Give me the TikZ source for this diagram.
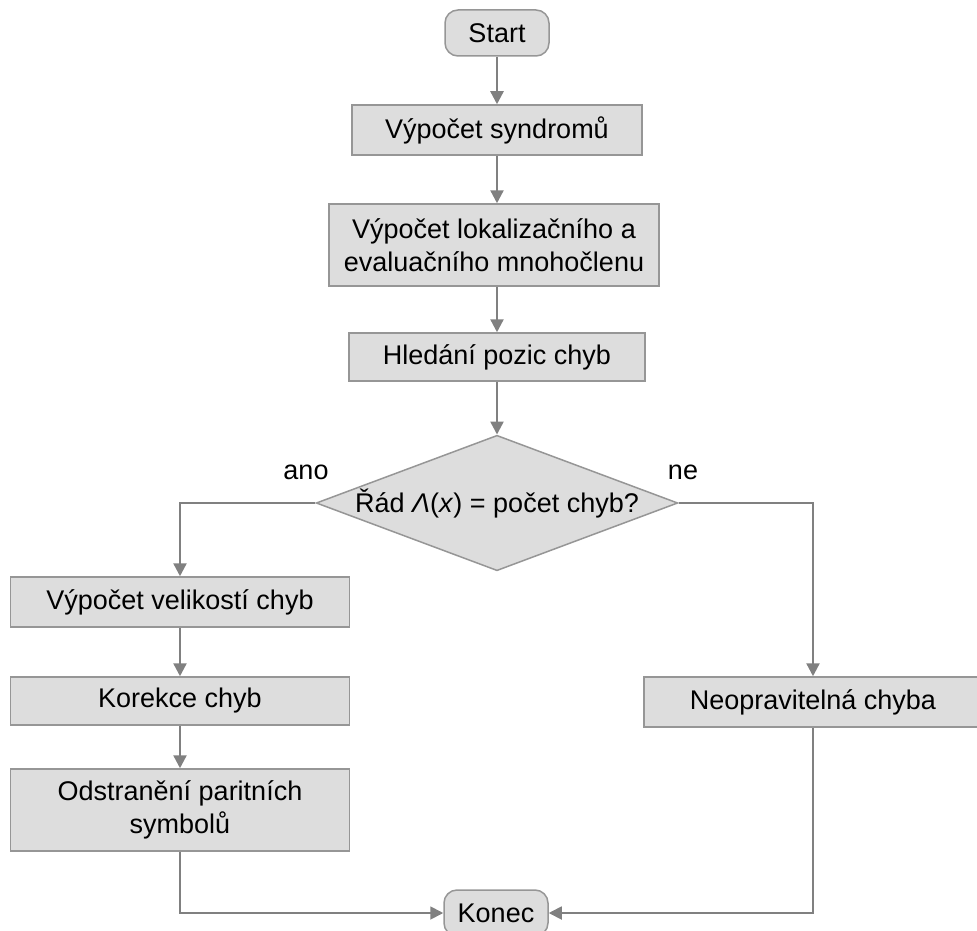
\documentclass[tikz,border=0pt]{standalone}
\usepackage{fontspec}
\setmainfont{Liberation Sans}
\usetikzlibrary{arrows.meta,shapes.geometric}
\definecolor{boxfill}{RGB}{221,221,221}
\definecolor{boxline}{RGB}{150,150,150}
\definecolor{flowline}{RGB}{128,128,128}
\begin{document}
\begin{tikzpicture}[x=1pt,y=-1pt,
  every node/.style={font=\fontsize{27}{33}\selectfont},
  stepbox/.style={draw=boxline,fill=boxfill,line width=1.5pt,
    minimum height=50pt,inner sep=0pt,align=center},
  termbox/.style={stepbox,rounded corners=13pt,minimum width=104pt,minimum height=46pt},
  decision/.style={draw=boxline,fill=boxfill,line width=1.5pt,diamond,aspect=2.67,
    minimum width=358pt,minimum height=134pt,inner sep=0pt},
  flow/.style={draw=flowline,line width=2.4pt,
    -{Triangle[length=13pt,width=13pt]}},
  plainflow/.style={draw=flowline,line width=1.8pt,
    -{Triangle[length=13pt,width=13pt]}},
  branch/.style={font=\fontsize{27}{33}\selectfont}
]
\useasboundingbox (0,0) rectangle (977,931);

\node[termbox] (start) at (497,33) {Start};
\node[stepbox,minimum width=290pt] (syn) at (497,130) {Výpočet syndromů};
\node[stepbox,minimum width=330pt,minimum height=82pt] (lok) at (494,245)
  {Výpočet lokalizačního a\\evaluačního mnohočlenu};
\node[stepbox,minimum width=296pt,minimum height=48pt] (hle) at (497,357) {Hledání pozic chyb};
\node[decision] (dia) at (497,503) {Řád \textit{Λ}(\textit{x}) = počet chyb?};

\node[stepbox,minimum width=339pt] (vel) at (180,602) {Výpočet velikostí chyb};
\node[stepbox,minimum width=339pt,minimum height=48pt] (kor) at (180,701) {Korekce chyb};
\node[stepbox,minimum width=339pt,minimum height=82pt] (ods) at (180,810)
  {Odstranění paritních\\symbolů};
\node[stepbox,minimum width=338pt] (neo) at (813,702) {Neopravitelná chyba};
\node[termbox] (kon) at (496,913) {Konec};

\node[branch] (ano) at (306,472) {ano};
\node[branch] (ne) at (683,472) {ne};

\draw[flow] (start) -- (syn);
\draw[flow] (syn.south) -- (syn.south |- lok.north);
\draw[flow] (lok.south -| hle.north) -- (hle.north);
\draw[flow] (hle) -- (dia.north);
\draw[flow] (dia.west) -| (vel.north);
\draw[flow] (dia.east) -| (neo.north);
\draw[flow] (vel) -- (kor);
\draw[flow] (kor) -- (ods);
\draw[plainflow] (ods.south) |- (kon.west);
\draw[plainflow] (neo.south) |- (kon.east);
\end{tikzpicture}
\end{document}
